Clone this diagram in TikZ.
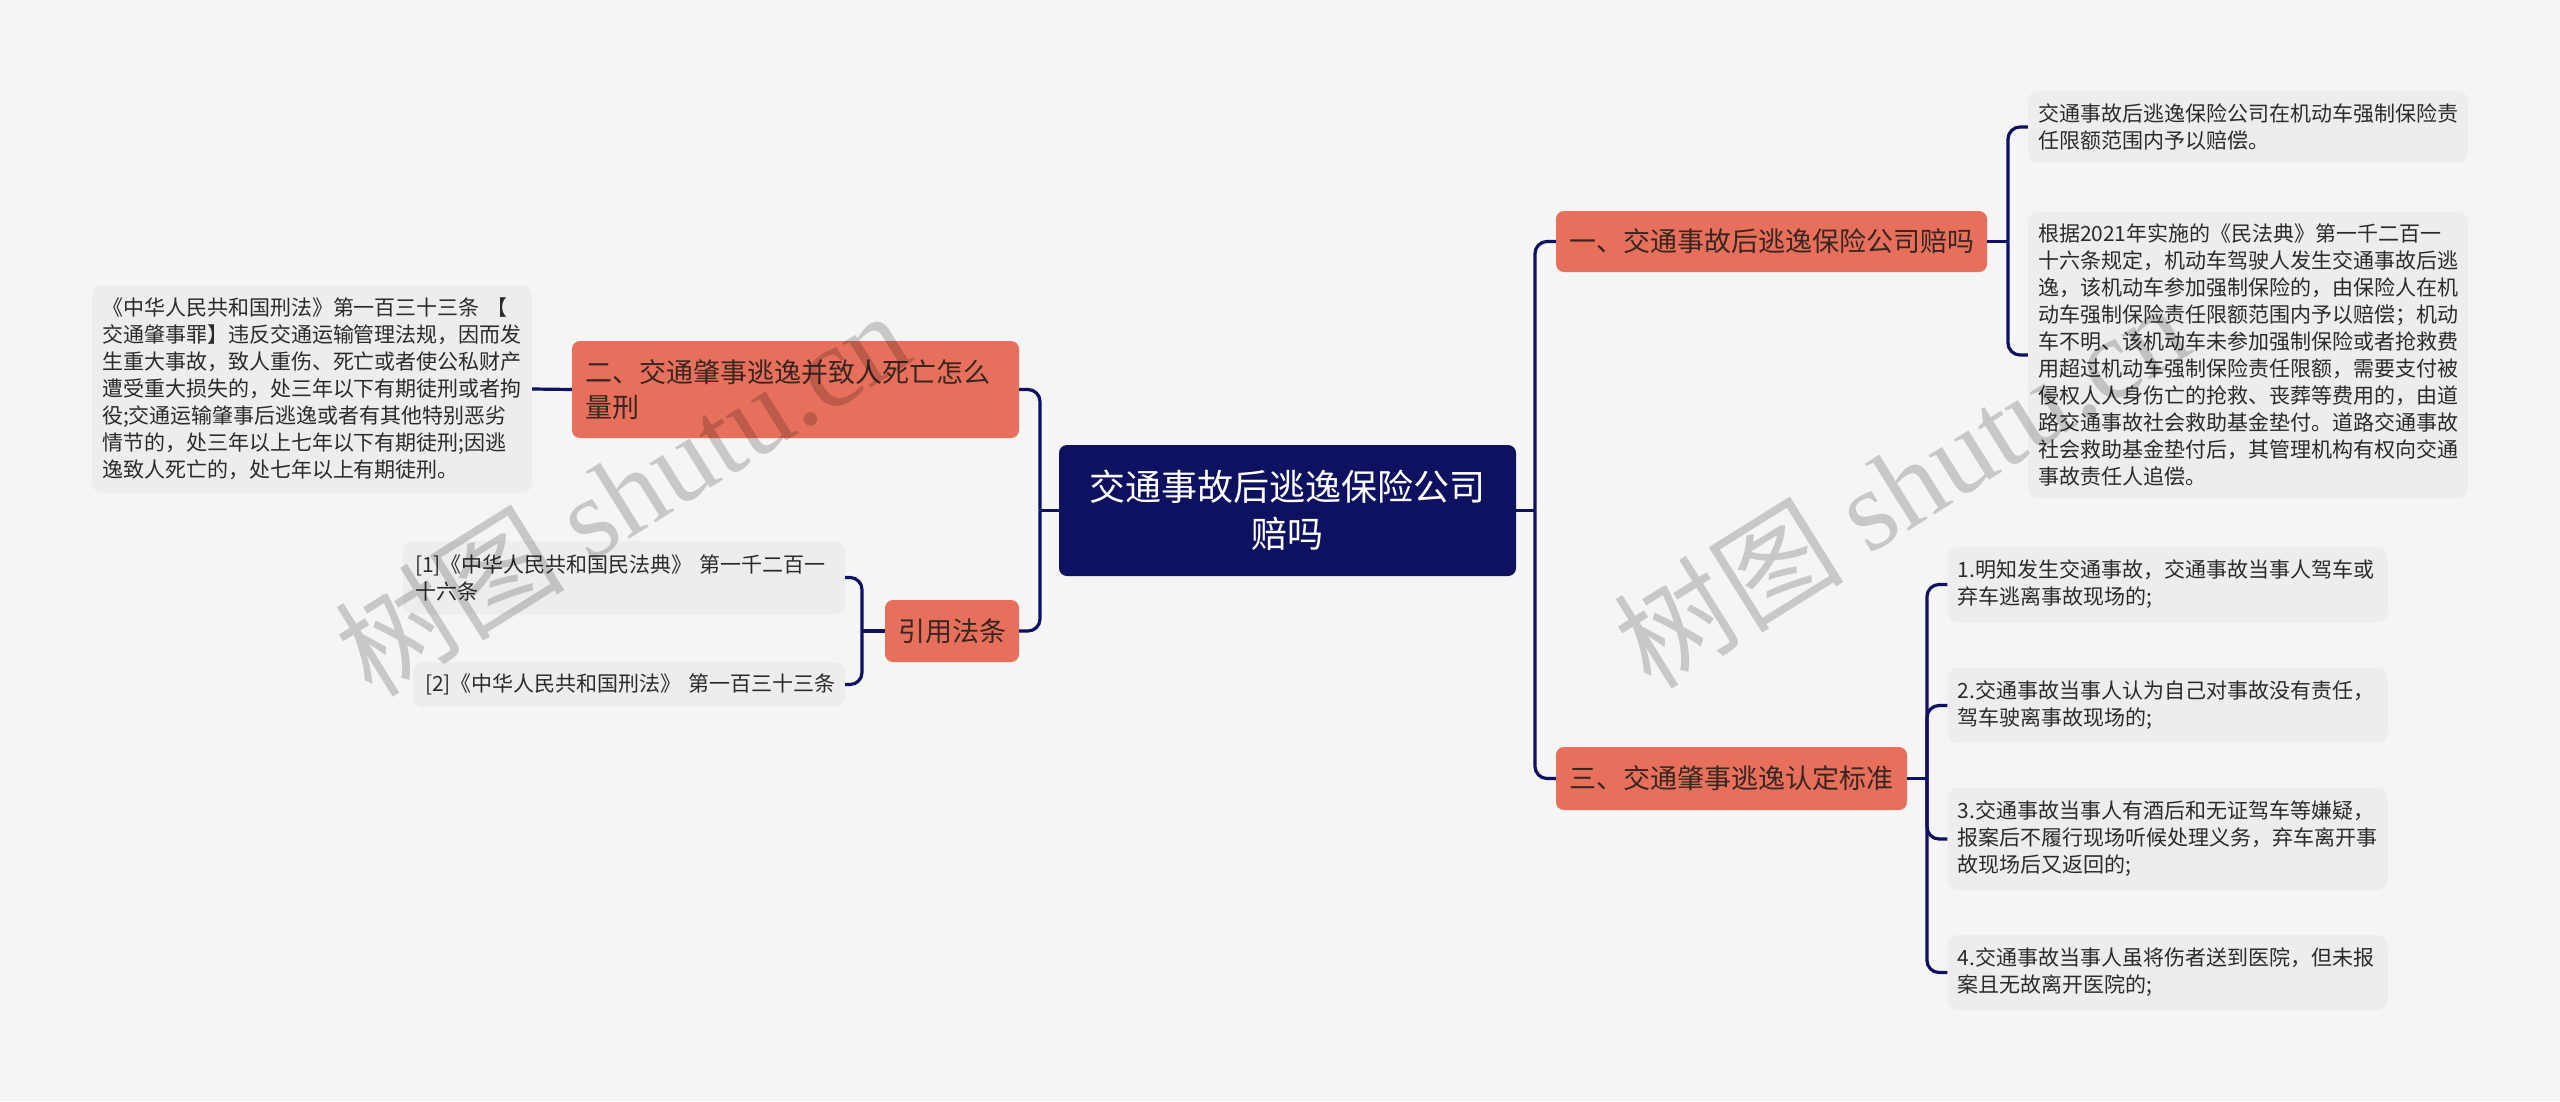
\documentclass[tikz,border=0pt]{standalone}
\usepackage{fontspec}
\setmainfont{Noto Sans CJK SC}
\newfontfamily\wmserif{Liberation Serif}
\definecolor{bgc}{HTML}{F5F5F5}
\definecolor{navy}{HTML}{0D1160}
\definecolor{salmon}{HTML}{E6705B}
\definecolor{saltext}{HTML}{3A2520}
\definecolor{leaffill}{HTML}{EDEDED}
\definecolor{leaftext}{HTML}{2B2B2B}
\tikzset{
  leaf/.style={fill=leaffill, rounded corners=10, inner xsep=10, inner ysep=0,
    align=left, text=leaftext, font=\fontsize{21}{27}\selectfont, text width=420},
  branch/.style={fill=salmon, rounded corners=8, inner sep=0, text=saltext,
    font=\fontsize{27}{35}\selectfont, align=center},
  root/.style={fill=navy, rounded corners=8, inner sep=0, text=white,
    font=\fontsize{36}{47}\selectfont, align=center},
  conn/.style={draw=navy, line width=3.2, rounded corners=12},
  wm/.style={text=black, text opacity=0.18, font=\fontsize{115}{115}\selectfont, rotate=32}
}
\begin{document}
\begin{tikzpicture}[x=1pt,y=-1pt]
\useasboundingbox (0,0) rectangle (2560,1101);
\fill[bgc] (0,0) rectangle (2560,1101);

% root
\node[root, minimum width=457, minimum height=131] (central) at (1287.5,510.5)
  {交通事故后逃逸保险公司\\赔吗};

% branches
\node[branch, minimum width=431, minimum height=61] (b1) at (1771.5,241.5)
  {一、交通事故后逃逸保险公司赔吗};
\node[branch, minimum width=351, minimum height=63] (b3) at (1731.5,778.5)
  {三、交通肇事逃逸认定标准};
\node[branch, minimum height=97, inner xsep=13, text width=421, align=left] (b2) at (795.5,389.5)
  {二、交通肇事逃逸并致人死亡怎么\\量刑};
\node[branch, minimum width=134, minimum height=62] (yy) at (952,631)
  {引用法条};

% right leaves
\node[leaf, minimum height=72] (r1) at (2248,127)
  {交通事故后逃逸保险公司在机动车强制保险责\\任限额范围内予以赔偿。};
\node[leaf, minimum height=286] (r2) at (2248,355)
  {根据2021年实施的《民法典》第一千二百一\\
   十六条规定，机动车驾驶人发生交通事故后逃\\
   逸，该机动车参加强制保险的，由保险人在机\\
   动车强制保险责任限额范围内予以赔偿；机动\\
   车不明、该机动车未参加强制保险或者抢救费\\
   用超过机动车强制保险责任限额，需要支付被\\
   侵权人人身伤亡的抢救、丧葬等费用的，由道\\
   路交通事故社会救助基金垫付。道路交通事故\\
   社会救助基金垫付后，其管理机构有权向交通\\
   事故责任人追偿。};
\node[leaf, minimum height=75] (r3a) at (2167.5,584.5)
  {1.明知发生交通事故，交通事故当事人驾车或\\弃车逃离事故现场的;};
\node[leaf, minimum height=75] (r3b) at (2167.5,705.5)
  {2.交通事故当事人认为自己对事故没有责任，\\驾车驶离事故现场的;};
\node[leaf, minimum height=102] (r3c) at (2167.5,839)
  {3.交通事故当事人有酒后和无证驾车等嫌疑，\\报案后不履行现场听候处理义务，弃车离开事\\故现场后又返回的;};
\node[leaf, minimum height=75] (r3d) at (2167.5,972.5)
  {4.交通事故当事人虽将伤者送到医院，但未报\\案且无故离开医院的;};

% left leaves
\node[leaf, minimum height=208] (l2) at (312,389)
  {《中华人民共和国刑法》第一百三十三条~【\\
   交通肇事罪】违反交通运输管理法规，因而发\\
   生重大事故，致人重伤、死亡或者使公私财产\\
   遭受重大损失的，处三年以下有期徒刑或者拘\\
   役;交通运输肇事后逃逸或者有其他特别恶劣\\
   情节的，处三年以上七年以下有期徒刑;因逃\\
   逸致人死亡的，处七年以上有期徒刑。};
\node[leaf, minimum height=73, inner xsep=12, text width=418] (lc1) at (624,577.5)
  {[1]《中华人民共和国民法典》~第一千二百一\\十六条};
\node[leaf, minimum height=45, inner xsep=12, text width=408] (lc2) at (629,684.5)
  {[2]《中华人民共和国刑法》~第一百三十三条};

% junctions
\coordinate (jL) at (1040,510.5);
\coordinate (jR) at (1535,510.5);
\coordinate (jB1) at (2008,241.5);
\coordinate (jB3) at (1927,778.5);
\coordinate (jYY) at (862,631);

% connectors
\draw[conn] (central.west) -- (jL);
\draw[conn] (jL) |- (b2.east);
\draw[conn] (jL) |- (yy.east);
\draw[conn] (central.east) -- (jR);
\draw[conn] (jR) |- (b1.west);
\draw[conn] (jR) |- (b3.west);
\draw[conn] (b1.east) -- (jB1);
\draw[conn] (jB1) |- (r1.west);
\draw[conn] (jB1) |- (r2.west);
\draw[conn] (b3.east) -- (jB3);
\draw[conn] (jB3) |- (r3a.west);
\draw[conn] (jB3) |- (r3b.west);
\draw[conn] (jB3) |- (r3c.west);
\draw[conn] (jB3) |- (r3d.west);
\draw[conn] (b2.west) -- (l2.east);
\draw[conn] (yy.west) -- (jYY);
\draw[conn] (jYY) |- (lc1.east);
\draw[conn] (jYY) |- (lc2.east);

% watermarks
\node[wm] (wm1) at (622,492) {树图\ {\wmserif shutu.cn}};
\node[wm] (wm2) at (1901,484) {树图\ {\wmserif shutu.cn}};
\end{tikzpicture}
\end{document}
